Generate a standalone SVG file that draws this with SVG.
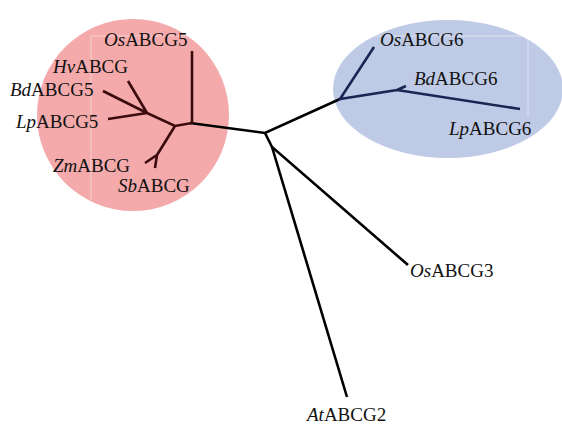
<svg xmlns="http://www.w3.org/2000/svg" width="562" height="427" viewBox="0 0 562 427">
<style>
.t{font-family:"Liberation Serif","Times New Roman",serif;font-size:19px;fill:#111}
.i{font-style:italic}
.e{fill:none;stroke-width:2.6;stroke-linecap:butt;stroke-linejoin:miter}
.r{stroke:#3c0b0e}
.b{stroke:#1b2553}
.k{stroke:#000}
</style>
<rect width="562" height="427" fill="#fff"/>
<g id="cluster-red"><circle cx="133" cy="115" r="96" fill="#f4aaab"/></g>
<g id="cluster-blue"><ellipse cx="448" cy="89" rx="115" ry="69" fill="#bfcbe6"/></g>
<path d="M91,200 V36 H528 V117" fill="none" stroke="#fff" stroke-opacity="0.45" stroke-width="1"/>
<g id="connectors">
<path class="e k" d="M190,123 L265,133 L340,99"/>
<path class="e k" d="M265,133 L272,147 L408,265"/>
<path class="e k" d="M272,147 L347,397"/>
<path class="e r" d="M192,51 V123 L175,126 L147,113 M128,81 L147,113 M103,91 L147,113 M108,119 L147,113 M175,126 L157,155 M145,163 L157,155 L155,168"/>
<path class="e b" d="M374,47 L340,99 L397,90 L406,86 M397,90 L520,109"/>
</g>
<g id="OsABCG5"><text class="t" x="104" y="46"><tspan class="i">Os</tspan>ABCG5</text></g>
<g id="HvABCG"><text class="t" x="53" y="73"><tspan class="i">Hv</tspan>ABCG</text></g>
<g id="BdABCG5"><text class="t" x="10" y="96"><tspan class="i">Bd</tspan>ABCG5</text></g>
<g id="LpABCG5"><text class="t" x="16" y="128"><tspan class="i">Lp</tspan>ABCG5</text></g>
<g id="ZmABCG"><text class="t" x="53" y="172"><tspan class="i">Zm</tspan>ABCG</text></g>
<g id="SbABCG"><text class="t" x="118" y="192"><tspan class="i">Sb</tspan>ABCG</text></g>
<g id="OsABCG6"><text class="t" x="380" y="46"><tspan class="i">Os</tspan>ABCG6</text></g>
<g id="BdABCG6"><text class="t" x="414" y="85"><tspan class="i">Bd</tspan>ABCG6</text></g>
<g id="LpABCG6"><text class="t" x="449" y="135"><tspan class="i">Lp</tspan>ABCG6</text></g>
<g id="OsABCG3"><text class="t" x="410" y="277"><tspan class="i">Os</tspan>ABCG3</text></g>
<g id="AtABCG2"><text class="t" x="307" y="421"><tspan class="i">At</tspan>ABCG2</text></g>
</svg>
